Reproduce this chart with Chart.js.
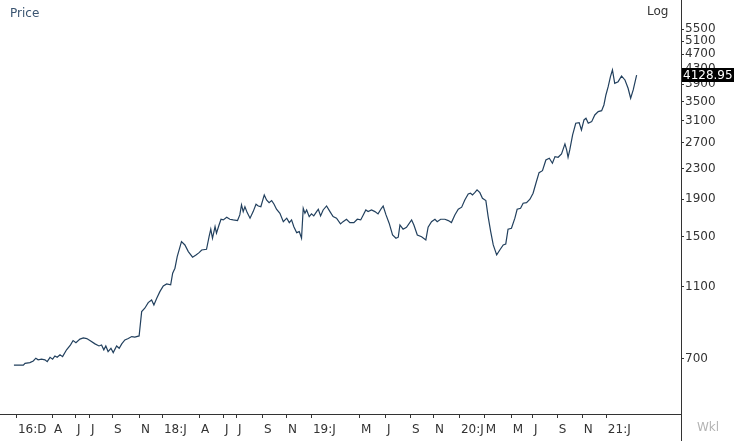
<!DOCTYPE html>
<html>
<head>
<meta charset="utf-8">
<script src="https://cdn.jsdelivr.net/npm/chart.js@4.4.1/dist/chart.umd.min.js"></script>
<style>
  html, body { margin: 0; padding: 0; background: #ffffff; }
  #wrap { width: 735px; height: 441px; position: relative; }
  canvas { display: block; }
</style>
</head>
<body>
<div id="wrap"><canvas id="c" width="735" height="441" style="width:735px;height:441px"></canvas></div>
<script>
// Week number (0 = last week of Dec 2016)
const weeks = [0,3.3,3.9,5.6,6.8,7.7,8.5,9.7,10.9,11.7,12.7,13.6,14.4,15.2,16.2,17.1,18.5,19.9,20.8,21.8,23.2,24.4,25.6,26.7,28.5,29.9,30.8,31.6,32.3,33.1,34.1,34.9,36.1,37.0,37.9,39.0,40.2,41.4,42.5,44.0,44.9,46.0,47.2,48.4,49.2,50.2,51.3,52.5,53.7,55.1,55.8,
56.6,57.4,58.9,60.1,61.3,62.8,64.0,65.1,66.0,67.7,68.6,69.2,69.8,70.7,71.2,72.1,72.8,73.6,74.8,75.9,77.1,78.6,79.4,80.0,80.6,81.2,82.0,83.0,84.1,85.1,85.9,86.8,88.0,88.8,89.7,90.6,91.4,92.3,93.5,94.7,95.9,96.8,97.6,98.4,99.4,100.3,101.1,101.7,102.3,102.9,103.8,104.6,105.4,106.4,107.0,107.8,108.7,109.9,111.1,112.2,113.4,114.8,115.7,116.9,118.1,119.5,120.7,121.9,122.8,123.7,124.5,125.7,126.9,128.0,129.2,129.8,130.8,131.9,133.1,134.3,135.1,
135.7,136.8,138.0,139.8,140.6,141.8,143.3,144.8,145.6,146.8,148.0,148.8,150.0,151.5,152.7,153.8,155.0,156.2,157.4,158.5,159.7,160.5,161.2,162.0,162.8,163.8,164.7,165.9,166.7,167.6,168.5,169.7,170.8,172.0,172.9,173.7,174.9,176.1,176.9,178.1,179.0,180.2,181.4,182.5,183.5,184.6,185.8,187.0,188.2,189.3,190.2,191.3,
192.5,193.7,194.3,194.8,195.4,196.4,197.5,198.7,199.5,200.4,201.1,201.9,203.1,204.2,205.4,206.6,207.4,208.1,208.9,209.7,210.4,211.2,212.4,213.6,214.8,215.9,216.8,217.7,218.9];

const prices = [673,673,681,684,691,703,696,699,696,688,707,699,713,707,718,710,741,764,785,775,792,798,795,785,769,759,764,741,759,733,748,728,759,748,769,788,795,805,802,808,941,961,995,1012,981,1023,1066,1105,1119,1112,1196,
1234,1327,1457,1427,1369,1322,1341,1360,1383,1389,1503,1575,1488,1600,1536,1617,1676,1669,1697,1676,1669,1662,1722,1833,1758,1813,1747,1687,1758,1841,1821,1813,1951,1891,1859,1883,1844,1784,1740,1651,1687,1641,1669,1600,1541,1551,1488,1795,1740,1776,1704,1733,1711,1758,1784,1711,1776,1821,1758,1704,1687,1628,1651,1676,1641,1641,1676,1669,1722,1776,1758,1776,1758,1733,1795,1821,1722,1635,1519,1488,1498,
1617,1575,1594,1669,1617,1519,1503,1473,1594,1651,1676,1651,1676,1676,1662,1641,1722,1784,1807,1891,1963,1972,1951,1979,2013,1979,1911,1883,1704,1551,1427,1341,1383,1427,1436,1575,1584,1687,1784,1795,1852,1859,1899,1972,2099,2243,2271,2428,2454,2378,2479,2469,
2521,2684,2585,2469,2585,2839,3054,3066,2929,3118,3151,3054,3085,3217,3284,3304,3424,3645,3839,4086,4261,3921,3961,4104,4003,3801,3571,3761,4128.95];

const xTickWeeks  = [1.05,13.71,21.79,26.71,34.80,44.29,52.37,65.38,73.81,78.38,87.52,95.96,104.75,121.62,130.76,139.54,147.63,156.77,165.55,175.04,182.43,191.21,200.0,208.44];
const xTickLabels = ['16:D','A','J','J','S','N','18:J','A','J','J','S','N','19:J','M','J','S','N','20:J','M','M','J','S','N','21:J'];
const yTicks = [700,1100,1500,1900,2300,2700,3100,3500,3900,4300,4700,5100,5500];
const lastPrice = 4128.95;
const priceLabel = 'Price';
const scaleLabel = 'Log';
const periodLabel = 'Wkl';

const FONT = 'DejaVu Sans';

const overlay = {
  id: 'overlay',
  afterDraw(chart) {
    const { ctx, chartArea: a, scales: { y } } = chart;
    ctx.save();
    ctx.strokeStyle = '#333';
    ctx.lineWidth = 1;
    const rx = Math.round(a.right) + 0.5;
    ctx.beginPath();
    ctx.moveTo(rx, 0);
    ctx.lineTo(rx, chart.height);
    ctx.stroke();
    ctx.font = '12px "' + FONT + '"';
    ctx.textBaseline = 'middle';
    ctx.textAlign = 'left';
    ctx.fillStyle = '#3a5470';
    ctx.fillText(priceLabel, 10, 14);
    ctx.fillStyle = '#333';
    ctx.fillText(scaleLabel, 647, 12);
    ctx.fillStyle = '#b4b4b4';
    ctx.fillText(periodLabel, 697, 428);
    const yp = y.getPixelForValue(lastPrice);
    ctx.fillStyle = '#000';
    ctx.fillRect(a.right + 1, Math.round(yp) - 7, 52, 14);
    ctx.fillStyle = '#fff';
    ctx.fillText(lastPrice.toFixed(2), a.right + 2, yp + 0.5);
    ctx.restore();
  }
};

new Chart(document.getElementById('c'), {
  type: 'line',
  data: {
    datasets: [{
      data: weeks.map((w, i) => ({ x: w, y: prices[i] })),
      borderColor: '#22405e',
      borderWidth: 1.2,
      pointRadius: 0,
      tension: 0,
      fill: false
    }]
  },
  options: {
    responsive: false,
    animation: false,
    layout: { padding: 0 },
    plugins: { legend: { display: false }, tooltip: { enabled: false }, title: { display: false } },
    scales: {
      x: {
        type: 'linear',
        position: 'bottom',
        min: -4.9,
        max: 234.5,
        afterBuildTicks: s => { s.ticks = xTickWeeks.map(v => ({ value: v })); },
        afterFit: s => { s.height = 27; s.paddingLeft = 0; s.paddingRight = 0; },
        ticks: {
          autoSkip: false, maxRotation: 0, minRotation: 0, align: 'start', labelOffset: 1, padding: 5,
          color: '#333', font: { family: FONT, size: 12 },
          callback: (v, i) => xTickLabels[i]
        },
        grid: { drawOnChartArea: false, drawTicks: true, tickLength: 4, color: '#333' },
        border: { display: true, color: '#333' }
      },
      y: {
        type: 'logarithmic',
        position: 'right',
        min: 496,
        max: 6600,
        afterBuildTicks: s => { s.ticks = yTicks.map(v => ({ value: v })); },
        afterFit: s => { s.width = 54; s.paddingTop = 0; s.paddingBottom = 0; },
        ticks: {
          autoSkip: false, padding: 1, color: '#333', font: { family: FONT, size: 12 },
          callback: v => String(v)
        },
        grid: { drawOnChartArea: false, drawTicks: true, tickLength: 3, color: '#333' },
        border: { display: true, color: '#333' }
      }
    }
  },
  plugins: [overlay]
});
</script>
</body>
</html>
